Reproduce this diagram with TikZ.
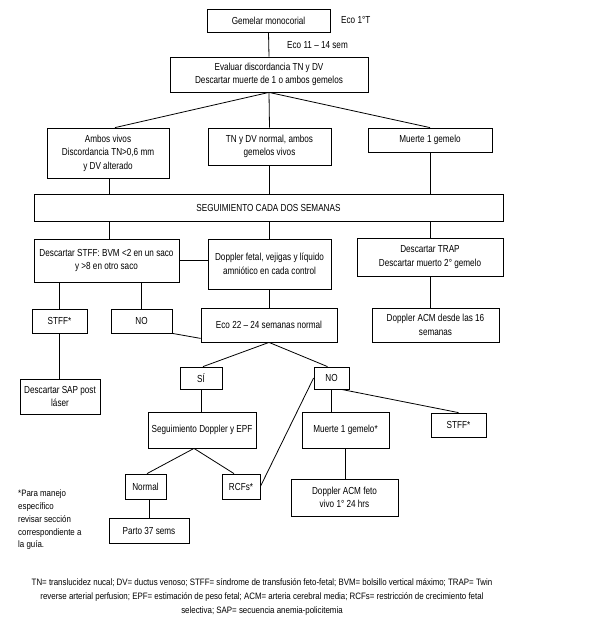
\documentclass[tikz,border=0pt]{standalone}
\usepackage{fontspec}
\setmainfont[FakeStretch=0.8]{Liberation Sans}
\newfontfamily\legfont[FakeStretch=0.85]{Liberation Sans}
\usetikzlibrary{calc}
\tikzset{
  box/.style={draw, line width=0.8pt, inner sep=1pt, align=center, font=\fontsize{10.2}{13.5}\selectfont},
  conn/.style={line width=0.8pt},
  lbl/.style={inner sep=0pt, font=\fontsize{10.2}{13.5}\selectfont},
}
\newcommand\mybox[6]{\node[box, minimum width={(#4-#2)*1pt}, minimum height={(#5-#3)*1pt}] (#1) at ({(#2+#4)/2},{(#3+#5)/2}) {#6};}
\begin{document}
\begin{tikzpicture}[x=1pt,y=-1pt]
\useasboundingbox (0,0) rectangle (607,635);
\mybox{gem}{207}{9}{330}{32}{Gemelar monocorial}
\node[lbl, anchor=west] (eco1) at (341,20) {Eco 1°T};
\mybox{eval}{170}{57}{368}{92}{Evaluar discordancia TN y DV\\Descartar muerte de 1 o ambos gemelos}
\node[lbl, anchor=west] (eco2) at (287,45) {Eco 11 – 14 sem};
\mybox{amb}{47}{128}{169}{178}{Ambos vivos\\Discordancia TN>0,6 mm\\y DV alterado}
\mybox{tnd}{208}{128}{331}{165}{TN y DV normal, ambos\\gemelos vivos}
\mybox{mue}{368}{128}{492}{152}{Muerte 1 gemelo}
\mybox{seg}{34}{194}{503}{221}{SEGUIMIENTO CADA DOS SEMANAS}
\mybox{dst}{34}{239}{179}{282}{Descartar STFF: BVM <2 en un saco\\y >8 en otro saco}
\mybox{dop}{208}{239}{331}{289}{Doppler fetal, vejigas y líquido\\amniótico en cada control}
\mybox{trap}{357}{238}{503}{276}{Descartar TRAP\\Descartar muerto 2° gemelo}
\mybox{stffa}{32}{309}{87}{333}{STFF*}
\mybox{noa}{111}{309}{172}{333}{NO}
\mybox{eco22}{201}{308}{337}{342}{Eco 22 – 24 semanas normal}
\mybox{dacm}{372}{308}{499}{342}{Doppler ACM desde las 16\\semanas}
\mybox{sap}{20}{379}{100}{414}{Descartar SAP post\\láser}
\mybox{si}{180}{367}{222}{389}{SÍ}
\mybox{nob}{314}{367}{349}{389}{NO}
\mybox{sdop}{148}{412}{256}{448}{Seguimiento Doppler y EPF}
\mybox{mueb}{302}{412}{389}{448}{Muerte 1 gemelo*}
\mybox{stffb}{431}{413}{486}{437}{STFF*}
\mybox{norm}{125}{474}{166}{499}{Normal}
\mybox{rcf}{222}{474}{260}{499}{RCFs*}
\mybox{parto}{109}{518}{189}{543}{Parto 37 sems}
\mybox{dfeto}{291}{479}{398}{516}{Doppler ACM feto\\vivo 1° 24 hrs}
\node[lbl, anchor=north west, align=left, font=\legfont\fontsize{9.3}{12.7}\selectfont] (nota) at (18,490) {*Para manejo\\específico\\revisar sección\\correspondiente a\\la guía.};
\node[lbl, align=center, font=\legfont\fontsize{9.3}{14}\selectfont] (leg) at (262,597) {TN= translucidez nucal; DV= ductus venoso; STFF= síndrome de transfusión feto-fetal; BVM= bolsillo vertical máximo; TRAP= Twin\\reverse arterial perfusion; EPF= estimación de peso fetal; ACM= arteria cerebral media; RCFs= restricción de crecimiento fetal\\selectiva; SAP= secuencia anemia-policitemia};
% connectors
\draw[conn] (gem.south) -- (eval.north);
\draw[conn] (eval.south) -- ([xshift=7pt]amb.north);
\draw[conn] (eval.south) -- (tnd.north);
\draw[conn] (eval.south) -- (mue.north);
\draw[conn] ([xshift=1.5pt]amb.south) -- ([xshift=1.5pt]amb.south |- seg.north);
\draw[conn] (tnd.south) -- (tnd.south |- seg.north);
\draw[conn] (mue.south) -- (mue.south |- seg.north);
\draw[conn] ([xshift=1.5pt]amb.south |- seg.south) -- ([xshift=1.5pt]amb.south |- dst.north);
\draw[conn] (tnd.south |- seg.south) -- (dop.north);
\draw[conn] (mue.south |- seg.south) -- (trap.north);
\draw[conn] (dst.east) -- (dst.east -| dop.west);
\draw[conn] (trap.south) -- (trap.south |- dacm.north);
\draw[conn] (stffa.north) -- (stffa.north |- dst.south);
\draw[conn] (noa.north) -- (noa.north |- dst.south);
\draw[conn] (dop.south) -- (dop.south |- eco22.north);
\draw[conn] (noa.south east) -- ([yshift=4pt]eco22.south west);
\draw[conn] (stffa.south) -- (stffa.south |- sap.north);
\draw[conn] (eco22.south) -- ([xshift=2pt]si.north);
\draw[conn] (eco22.south) -- ([xshift=-4pt]nob.north);
\draw[conn] (si.south) -- (si.south |- sdop.north);
\draw[conn] (nob.south) -- (nob.south |- mueb.north);
\draw[conn] ([xshift=-8pt]nob.south east) -- (stffb.north);
\draw[conn] ([xshift=-8pt]sdop.south) -- ([xshift=1.5pt]norm.north);
\draw[conn] ([xshift=-8pt]sdop.south) -- ([xshift=-7pt]rcf.north);
\draw[conn] (rcf.east) -- (nob.west);
\draw[conn] (parto.north) -- (parto.north |- norm.south);
\draw[conn] (mueb.south) -- (mueb.south |- dfeto.north);
\end{tikzpicture}
\end{document}
